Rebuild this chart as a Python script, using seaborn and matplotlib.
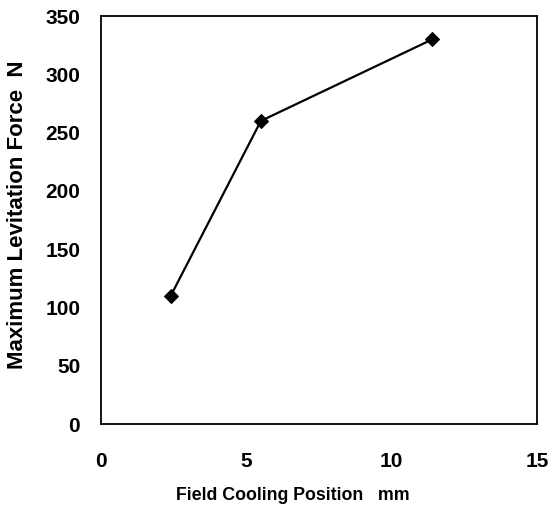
import numpy as np
import pandas as pd
import matplotlib
matplotlib.use('Agg')
import matplotlib.pyplot as plt
import seaborn as sns

position = [2.4, 5.5, 11.4]
force = [110, 260, 330]
x_ticks = [0, 5, 10, 15]
y_ticks = [0, 50, 100, 150, 200, 250, 300, 350]

sns.set_style('white')
plt.rcParams['font.family'] = ['Liberation Sans', 'DejaVu Sans']
plt.rcParams['font.weight'] = 'bold'
plt.rcParams['text.color'] = 'black'
plt.rcParams['axes.labelcolor'] = 'black'
plt.rcParams['xtick.color'] = 'black'
plt.rcParams['ytick.color'] = 'black'

df = pd.DataFrame({'pos': position, 'force': force})

fig = plt.figure(figsize=(5.51, 5.07), dpi=100)
ax = fig.add_axes([0.1833, 0.1637, 0.7913, 0.8047])
sns.lineplot(data=df, x='pos', y='force', ax=ax, color='black', lw=1.6,
             marker='D', markersize=7.5, markeredgecolor='black')

ax.set_xlim(0, 15)
ax.set_ylim(0, 350)
ax.set_xticks(x_ticks)
ax.set_yticks(y_ticks)
ax.tick_params(axis='x', direction='in', length=4, width=1, labelsize=15, pad=20)
ax.tick_params(axis='y', direction='in', length=4, width=1, labelsize=15, pad=15)
for s in ax.spines.values():
    s.set_color('black')
    s.set_linewidth(1.3)
for lab in ax.get_xticklabels() + ax.get_yticklabels():
    lab.set_fontweight('bold')
ax.set_xlabel('Field Cooling Position   mm', fontsize=12.8, fontweight='bold')
ax.set_ylabel('Maximum Levitation Force  N', fontsize=16, fontweight='bold')
ax.xaxis.set_label_coords(0.44, -0.154)
ax.yaxis.set_label_coords(-0.167, 0.512)

fig.savefig('out.png', dpi=100)
